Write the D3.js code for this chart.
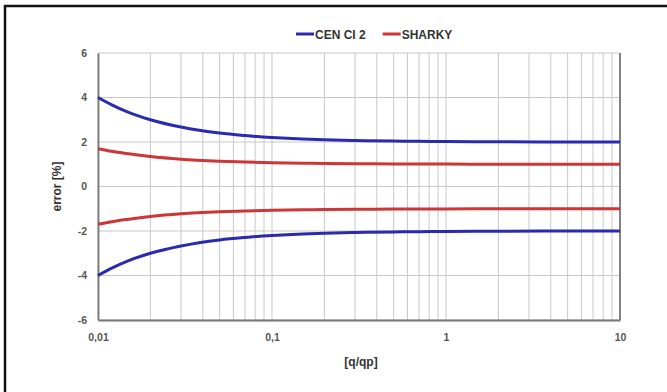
<!DOCTYPE html>
<html>
<head>
<meta charset="utf-8">
<script src="https://cdn.jsdelivr.net/npm/d3@7"></script>
<style>
  body { margin: 0; background: #fff; }
  text { font-family: "Liberation Sans", Arial, sans-serif; }
</style>
</head>
<body>
<svg id="chart" width="667" height="392"></svg>
<script>
// flow ratio q/qp
const qValues = [0.01, 0.012, 0.015, 0.02, 0.03, 0.05, 0.07, 0.1, 0.15, 0.2, 0.3, 0.5, 0.7, 1, 2, 5, 10]
// CEN CI 2 upper limit (lower = mirrored)
const cenUpper = [4.0, 3.67, 3.33, 3.0, 2.67, 2.4, 2.29, 2.2, 2.13, 2.1, 2.07, 2.04, 2.03, 2.02, 2.01, 2.0, 2.0]
// SHARKY upper limit
const sharkyUpper = [1.7, 1.58, 1.47, 1.35, 1.23, 1.14, 1.1, 1.07, 1.047, 1.035, 1.023, 1.014, 1.01, 1.007, 1.004, 1.001, 1.0]
const yTicks = [-6, -4, -2, 0, 2, 4, 6]
const xTicks = [0.01, 0.1, 1, 10]
const legendNames = ["CEN CI 2", "SHARKY"]
const colors = ["#2a2ab0", "#cc3636"]

const svg = d3.select('#chart')

// outer frame
svg.append('rect')
  .attr('x', 5).attr('y', 6)
  .attr('width', 680).attr('height', 400)
  .attr('fill', 'none')
  .attr('stroke', '#111')
  .attr('stroke-width', 2.5)

var x = d3.scaleLog().domain([0.01, 10]).range([98, 620])
var y = d3.scaleLinear().domain([-6, 6]).range([320, 53])

// vertical grid 1..9 per decade
var minor = []
for (let d = 0.01; d < 10; d *= 10) {
  for (let k = 1; k < 10; k++) minor.push(+(d * k).toPrecision(3))
}
minor.push(10)
svg.append('g').selectAll('line')
  .data(minor)
  .join('line')
  .attr('x1', d => x(d)).attr('x2', d => x(d))
  .attr('y1', y(6)).attr('y2', y(-6))
  .attr('stroke', '#c8c8c8')
  .attr('stroke-width', 1)

// horizontal grid
svg.append('g').selectAll('line')
  .data(yTicks)
  .join('line')
  .attr('x1', x(0.01)).attr('x2', x(10))
  .attr('y1', d => y(d)).attr('y2', d => y(d))
  .attr('stroke', '#c8c8c8')
  .attr('stroke-width', 1)

// axes
const yAxis = d3.axisLeft(y).tickValues(yTicks).tickSize(0).tickPadding(11)
  .tickFormat(d => String(d))
const gy = svg.append('g').attr('transform', `translate(${x(0.01)},0)`).call(yAxis)
const xAxis = d3.axisBottom(x).tickValues(xTicks).tickSize(0).tickPadding(14)
  .tickFormat(d => String(d).replace('.', ','))
const gx = svg.append('g').attr('transform', `translate(0,${y(-6)})`).call(xAxis)
;[gx, gy].forEach(g => {
  g.select('.domain').attr('stroke', '#777').attr('stroke-width', 1.8)
  g.selectAll('text').attr('font-size', 10.5).attr('font-weight', 'bold').attr('fill', '#555')
})
// right border of plot area
svg.append('line').attr('x1', x(10)).attr('x2', x(10)).attr('y1', y(6)).attr('y2', y(-6))
  .attr('stroke', '#777').attr('stroke-width', 1.8)

// curves
const line = d3.line().x(d => x(d[0])).y(d => y(d[1])).curve(d3.curveMonotoneX)
const series = [
  { vals: cenUpper, c: colors[0] },
  { vals: sharkyUpper, c: colors[1] }
]
series.forEach(s => {
  [1, -1].forEach(sign => {
    svg.append('path')
      .datum(qValues.map((q, i) => [q, sign * s.vals[i]]))
      .attr('d', line)
      .attr('fill', 'none')
      .attr('stroke', s.c)
      .attr('stroke-width', 3)
  })
})

// titles
svg.append('text')
  .attr('transform', `translate(61,${y(0)}) rotate(-90)`)
  .attr('text-anchor', 'middle')
  .attr('font-size', 12).attr('font-weight', 'bold').attr('fill', '#333')
  .text('error [%]')
svg.append('text')
  .attr('x', 361).attr('y', 366)
  .attr('text-anchor', 'middle')
  .attr('font-size', 12).attr('font-weight', 'bold').attr('fill', '#333')
  .text('[q/qp]')

// legend
const legend = svg.append('g').attr('transform', 'translate(296,34)')
var lx = 0
legendNames.forEach((n, i) => {
  legend.append('line').attr('x1', lx).attr('x2', lx + 18).attr('y1', 0).attr('y2', 0)
    .attr('stroke', colors[i]).attr('stroke-width', 3)
  const t = legend.append('text').attr('x', lx + 19).attr('y', 4.5)
    .attr('font-size', 12).attr('font-weight', 'bold').attr('fill', '#333')
    .text(n)
  lx += 19 + t.node().getComputedTextLength() + 17
})
</script>
</body>
</html>
